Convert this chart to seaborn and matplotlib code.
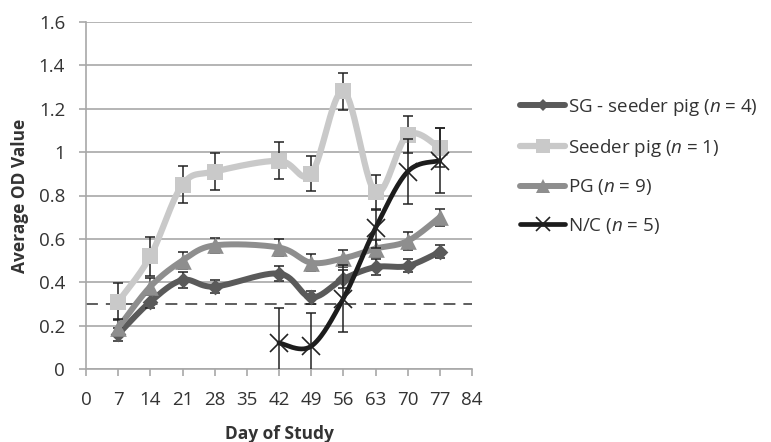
import numpy as np
import pandas as pd
import matplotlib
matplotlib.use("Agg")
import matplotlib.pyplot as plt
import seaborn as sns
from matplotlib.lines import Line2D

days = [7, 14, 21, 28, 42, 49, 56, 63, 70, 77]
nc_days = [42, 49, 56, 63, 70, 77]

sg_vals = [0.16, 0.31, 0.41, 0.38, 0.44, 0.33, 0.415, 0.47, 0.475, 0.54]
sg_err = [0.03, 0.03, 0.035, 0.03, 0.035, 0.03, 0.04, 0.035, 0.03, 0.03]
seeder_vals = [0.31, 0.52, 0.85, 0.91, 0.96, 0.90, 1.28, 0.815, 1.08, 1.02]
seeder_err = [0.085, 0.09, 0.085, 0.085, 0.085, 0.08, 0.085, 0.08, 0.085, 0.09]
pg_vals = [0.19, 0.38, 0.50, 0.57, 0.56, 0.49, 0.51, 0.555, 0.59, 0.70]
pg_err = [0.04, 0.04, 0.04, 0.035, 0.04, 0.04, 0.04, 0.04, 0.04, 0.04]
nc_vals = [0.12, 0.105, 0.325, 0.65, 0.91, 0.96]
nc_err = [0.16, 0.155, 0.155, 0.09, 0.15, 0.15]

labels = [r"SG - seeder pig ($\mathit{n}$ = 4)", r"Seeder pig ($\mathit{n}$ = 1)",
          r"PG ($\mathit{n}$ = 9)", r"N/C ($\mathit{n}$ = 5)"]
threshold = 0.3

sns.set_theme(style="white")
plt.rcParams['font.family'] = ['Open Sans', 'DejaVu Sans']
plt.rcParams['mathtext.fontset'] = 'custom'
plt.rcParams['mathtext.rm'] = 'Open Sans'
plt.rcParams['mathtext.it'] = 'Open Sans:italic'


def smooth(x, y, n=30):
    # Bezier smoothing similar to spreadsheet "smoothed line"
    x = np.asarray(x, float); y = np.asarray(y, float)
    px, py = [], []
    m = len(x)
    for i in range(m - 1):
        x0, y0 = (x[i - 1], y[i - 1]) if i > 0 else (x[i], y[i])
        x3, y3 = (x[i + 2], y[i + 2]) if i + 2 < m else (x[i + 1], y[i + 1])
        x1, y1, x2, y2 = x[i], y[i], x[i + 1], y[i + 1]
        c1x = x1 + (x2 - x0) / 6; c1y = y1 + (y2 - y0) / 6
        c2x = x2 - (x3 - x1) / 6; c2y = y2 - (y3 - y1) / 6
        t = np.linspace(0, 1, n)
        bx = (1 - t) ** 3 * x1 + 3 * (1 - t) ** 2 * t * c1x + 3 * (1 - t) * t ** 2 * c2x + t ** 3 * x2
        by = (1 - t) ** 3 * y1 + 3 * (1 - t) ** 2 * t * c1y + 3 * (1 - t) * t ** 2 * c2y + t ** 3 * y2
        px.extend(bx); py.extend(by)
    return np.array(px), np.array(py)


W, H = 771, 442
fig = plt.figure(figsize=(W / 100, H / 100), dpi=100)
ax = fig.add_axes([86 / W, (H - 369) / H, (472 - 86) / W, (369 - 22) / H])

series = [
    (days, sg_vals, sg_err, "#5a5a5a", "D", 8, 4.3),
    (days, seeder_vals, seeder_err, "#c9c9c9", "s", 12, 4.5),
    (days, pg_vals, pg_err, "#8e8e8e", "^", 12, 4.3),
    (nc_days, nc_vals, nc_err, "#1c1c1c", "x", 13, 3.4),
]
handles = []
z = 3
for (xd, yd, ed, col, mk, ms, lw), lab in zip(series, labels):
    sx, sy = smooth(xd, yd)
    sns.lineplot(x=sx, y=sy, ax=ax, color=col, lw=lw, sort=False, zorder=z)
    ax.errorbar(xd, yd, yerr=ed, fmt="none", ecolor="#222222", elinewidth=1.1,
                capsize=3.6, capthick=1.1, zorder=z + 1)
    df = pd.DataFrame({"x": xd, "y": yd})
    if mk == "x":
        ax.plot(xd, yd, ls="none", marker="x", ms=ms, mew=1.2, color="#222222", zorder=z + 2)
    else:
        sns.scatterplot(data=df, x="x", y="y", ax=ax, marker=mk, s=ms ** 2, color=col,
                        edgecolor=col, linewidth=0, zorder=z + 2)
    handles.append(Line2D([0], [0], color=col, lw=lw, marker=mk, ms=ms * 0.8,
                          mew=1.2 if mk == "x" else 0, mec="#222222" if mk == "x" else col,
                          mfc=col))
    z += 3

ax.axhline(threshold, color="#333333", lw=1.1, ls=(0, (7.8, 5.2)), zorder=2)

ax.set_xlim(0, 84)
ax.set_ylim(0, 1.6)
ax.set_xticks(np.arange(0, 85, 7))
ax.set_yticks(np.arange(0, 1.61, 0.2))
ax.set_yticklabels(["0", "0.2", "0.4", "0.6", "0.8", "1", "1.2", "1.4", "1.6"])
ax.yaxis.grid(True, color="#a8a8a8", lw=1.2)
ax.xaxis.grid(False)
for s in ["top", "right"]:
    ax.spines[s].set_visible(False)
for s in ["left", "bottom"]:
    ax.spines[s].set_color("#a8a8a8")
    ax.spines[s].set_linewidth(1.2)
ax.tick_params(axis="both", which="major", length=5, width=1.2, color="#a8a8a8",
               labelsize=13.5, labelcolor="#333333", direction="out", bottom=True, left=True)
ax.tick_params(axis="x", pad=11)
ax.tick_params(axis="y", pad=10)
ax.set_xlabel("Day of Study", fontsize=12.5, fontweight="bold", color="#333333", labelpad=11.5)
ax.set_ylabel("Average OD Value", fontsize=12.5, fontweight="bold", color="#333333", labelpad=7)

leg_fs = 13.5
fs_px = leg_fs * 100 / 72
targets = [107, 147, 187, 226]   # entry centres, px from top
text_left = 568


def make_legend(anchor, ls):
    return fig.legend(handles, labels, loc="upper left", bbox_to_anchor=anchor,
                      frameon=False, fontsize=leg_fs, handlelength=2.4, labelspacing=ls,
                      handletextpad=0.16, labelcolor="#333333", borderpad=0.4)


anchor = [512 / W, 1 - 88 / H]
ls = 1.1
leg = make_legend(tuple(anchor), ls)
for _ in range(3):
    fig.canvas.draw()
    r = fig.canvas.get_renderer()
    ext = [t.get_window_extent(r) for t in leg.get_texts()]
    cy = [H - (e.y0 + e.y1) / 2 for e in ext]
    spacing = (cy[-1] - cy[0]) / 3
    ls += ((targets[-1] - targets[0]) / 3 - spacing) / fs_px
    anchor[1] += (cy[0] - targets[0]) / H
    anchor[0] += (text_left - ext[0].x0) / W
    leg.remove()
    leg = make_legend(tuple(anchor), ls)

fig.savefig("out.png", dpi=100, facecolor="white")
